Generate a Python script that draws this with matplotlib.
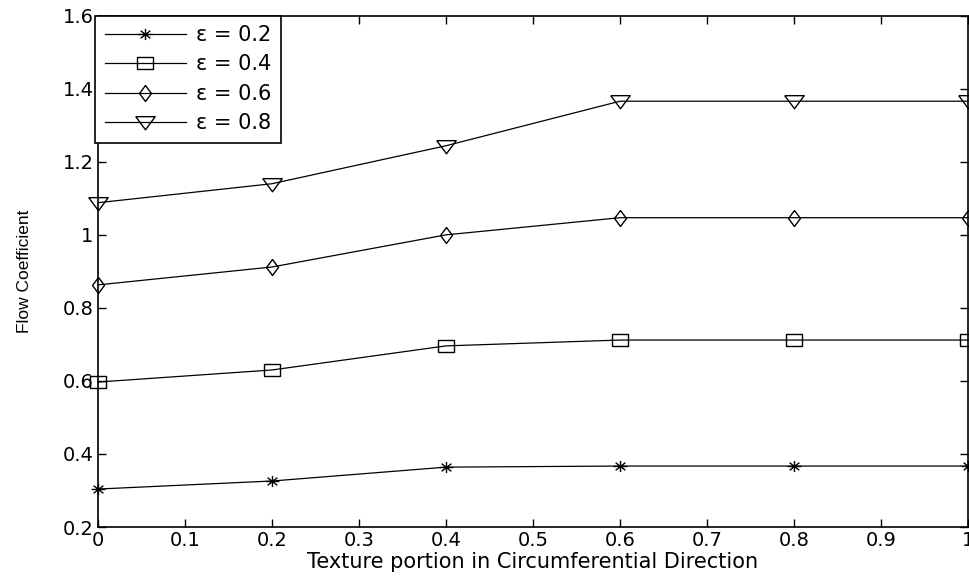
import matplotlib.pyplot as plt
from matplotlib.path import Path

x = [0, 0.2, 0.4, 0.6, 0.8, 1.0]
eps02 = [0.304, 0.326, 0.364, 0.367, 0.367, 0.367]
eps04 = [0.597, 0.630, 0.696, 0.712, 0.712, 0.712]
eps06 = [0.863, 0.912, 1.000, 1.047, 1.047, 1.047]
eps08 = [1.088, 1.140, 1.244, 1.366, 1.366, 1.366]
labels = ['ε = 0.2', 'ε = 0.4', 'ε = 0.6', 'ε = 0.8']

plt.rcParams['font.family'] = ['DejaVu Sans']

# the original picture is a bit wider than tall, so markers are squashed
star = Path([(-1, 0), (1, 0), (0, -0.8), (0, 0.8), (-0.7, -0.55), (0.7, 0.55), (-0.7, 0.55), (0.7, -0.55)],
            [Path.MOVETO, Path.LINETO] * 4)
square = [(-1, -0.75), (1, -0.75), (1, 0.75), (-1, 0.75), (-1, -0.75)]
diamond = [(0, 1), (0.75, 0), (0, -1), (-0.75, 0), (0, 1)]
tri = [(-1, 0.6), (1, 0.6), (0, -0.75), (-1, 0.6)]

fig = plt.figure(figsize=(9.69, 5.83), dpi=100)
ax = fig.add_axes([0.101, 0.096, 0.898, 0.877])

ms = dict(color='black', lw=0.9, mfc='none', mec='black', mew=1.0, clip_on=False)
ax.plot(x, eps02, marker=star, markersize=10, label=labels[0], **ms)
ax.plot(x, eps04, marker=square, markersize=12, label=labels[1], **ms)
ax.plot(x, eps06, marker=diamond, markersize=11.5, label=labels[2], **ms)
ax.plot(x, eps08, marker=tri, markersize=14, label=labels[3], **ms)

ax.set_xlim(0, 1)
ax.set_ylim(0.2, 1.6)
ax.set_xticks([0, 0.1, 0.2, 0.3, 0.4, 0.5, 0.6, 0.7, 0.8, 0.9, 1])
ax.set_xticklabels(['0', '0.1', '0.2', '0.3', '0.4', '0.5', '0.6', '0.7', '0.8', '0.9', '1'])
ax.set_yticks([0.2, 0.4, 0.6, 0.8, 1.0, 1.2, 1.4, 1.6])
ax.set_yticklabels(['0.2', '0.4', '0.6', '0.8', '1', '1.2', '1.4', '1.6'])
ax.tick_params(direction='in', top=True, right=True, length=6, width=1, labelsize=14, pad=3)
for s in ax.spines.values():
    s.set_linewidth(1.2)

ax.set_xlabel('Texture portion in Circumferential Direction', fontsize=15, labelpad=1)
ax.set_ylabel('Flow Coefficient', fontsize=12.5, family='Liberation Sans', labelpad=22)

leg = ax.legend(loc='upper left', bbox_to_anchor=(-0.003, 1.0), borderaxespad=0, fancybox=False,
                edgecolor='black', fontsize=15, handlelength=3.9, handletextpad=0.5,
                labelspacing=0.45, borderpad=0.45, framealpha=1)
leg.get_frame().set_linewidth(1.2)

fig.savefig('out.png', dpi=100)
